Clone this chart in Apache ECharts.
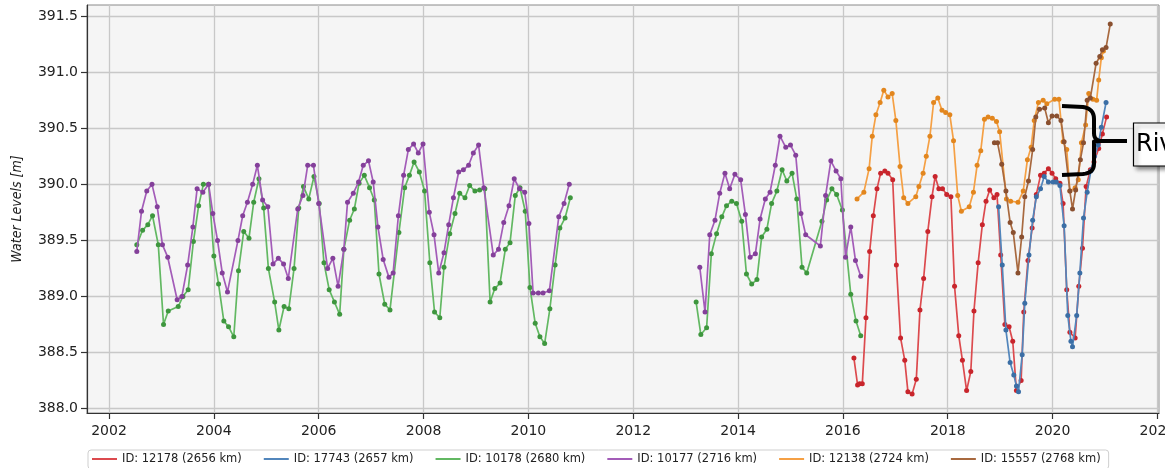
<!DOCTYPE html>
<html>
<head>
<meta charset="utf-8">
<script src="https://cdn.jsdelivr.net/npm/echarts@6/dist/echarts.min.js"></script>
<style>
  html, body { margin: 0; padding: 0; background: #ffffff; }
  #chart { width: 1165px; height: 468px; }
</style>
</head>
<body>
<div id="chart"></div>
<script>
// Axis ticks
const xTicks = [2002, 2004, 2006, 2008, 2010, 2012, 2014, 2016, 2018, 2020, 2022];
const yTicks = [388.0, 388.5, 389.0, 389.5, 390.0, 390.5, 391.0, 391.5];

// Virtual station names (legend)
const stationNames = [
  'ID: 12178 (2656 km)',
  'ID: 17743 (2657 km)',
  'ID: 10178 (2680 km)',
  'ID: 10177 (2716 km)',
  'ID: 12138 (2724 km)',
  'ID: 15557 (2768 km)'
];

// Water level time series: [decimal year, level in m]
const id12178 = [
  [2016.21, 388.45], [2016.28, 388.21], [2016.32, 388.22], [2016.37, 388.22], [2016.44, 388.81],
  [2016.51, 389.40], [2016.58, 389.72], [2016.65, 389.96], [2016.72, 390.10], [2016.80, 390.12],
  [2016.86, 390.10], [2016.95, 390.04], [2017.02, 389.28], [2017.10, 388.63], [2017.18, 388.43],
  [2017.24, 388.15], [2017.32, 388.13], [2017.40, 388.26], [2017.47, 388.88], [2017.54, 389.16],
  [2017.62, 389.58], [2017.70, 389.89], [2017.76, 390.07], [2017.83, 389.96], [2017.90, 389.96],
  [2017.98, 389.91], [2018.06, 389.89], [2018.13, 389.09], [2018.21, 388.65], [2018.28, 388.43],
  [2018.36, 388.16], [2018.44, 388.33], [2018.50, 388.87], [2018.58, 389.30], [2018.66, 389.64],
  [2018.73, 389.85], [2018.80, 389.95], [2018.88, 389.88], [2018.94, 389.91], [2019.01, 389.37],
  [2019.09, 388.75], [2019.17, 388.73], [2019.24, 388.60], [2019.31, 388.16], [2019.40, 388.25],
  [2019.45, 388.86], [2019.53, 389.32], [2019.61, 389.61], [2019.69, 389.91], [2019.77, 390.08],
  [2019.84, 390.10], [2019.92, 390.14], [2019.99, 390.10], [2020.06, 390.05], [2020.14, 390.01],
  [2020.20, 389.83], [2020.27, 389.06], [2020.33, 388.68], [2020.43, 388.63], [2020.50, 389.09],
  [2020.57, 389.43], [2020.64, 389.98], [2020.72, 390.13], [2020.79, 390.20], [2020.88, 390.32],
  [2020.95, 390.45], [2021.03, 390.60]
];

const id17743 = [
  [2018.97, 389.80], [2019.04, 389.28], [2019.11, 388.70], [2019.19, 388.41], [2019.26, 388.30],
  [2019.31, 388.20], [2019.35, 388.15], [2019.42, 388.48], [2019.47, 388.94], [2019.55, 389.37],
  [2019.62, 389.68], [2019.69, 389.89], [2019.77, 389.96], [2019.84, 390.07], [2019.92, 390.02],
  [2020.01, 390.02], [2020.07, 390.02], [2020.14, 389.99], [2020.22, 389.63], [2020.29, 388.83],
  [2020.35, 388.60], [2020.38, 388.55], [2020.46, 388.83], [2020.52, 389.21], [2020.59, 389.70],
  [2020.66, 389.93], [2020.73, 390.12], [2020.80, 390.25], [2020.87, 390.35], [2020.93, 390.51],
  [2021.02, 390.73]
];

const id10178 = [
  [2002.53, 389.46], [2002.64, 389.59], [2002.74, 389.64], [2002.83, 389.72], [2002.94, 389.46],
  [2003.04, 388.75], [2003.13, 388.87], [2003.32, 388.91], [2003.41, 389.00], [2003.51, 389.06],
  [2003.61, 389.49], [2003.71, 389.81], [2003.80, 390.00], [2003.90, 390.00], [2004.00, 389.36],
  [2004.09, 389.11], [2004.19, 388.78], [2004.28, 388.73], [2004.38, 388.64], [2004.47, 389.23],
  [2004.57, 389.58], [2004.67, 389.52], [2004.76, 389.84], [2004.86, 390.05], [2004.95, 389.79],
  [2005.04, 389.25], [2005.16, 388.95], [2005.24, 388.70], [2005.34, 388.91], [2005.43, 388.89],
  [2005.53, 389.25], [2005.62, 389.79], [2005.71, 389.98], [2005.81, 389.87], [2005.91, 390.07],
  [2006.01, 389.83], [2006.10, 389.30], [2006.20, 389.06], [2006.30, 388.95], [2006.40, 388.84],
  [2006.48, 389.42], [2006.59, 389.68], [2006.68, 389.78], [2006.77, 390.01], [2006.87, 390.08],
  [2006.97, 389.97], [2007.06, 389.86], [2007.15, 389.20], [2007.26, 388.93], [2007.36, 388.88],
  [2007.53, 389.57], [2007.64, 389.97], [2007.73, 390.08], [2007.82, 390.20], [2007.92, 390.11],
  [2008.02, 389.94], [2008.12, 389.30], [2008.21, 388.86], [2008.31, 388.81], [2008.39, 389.26],
  [2008.50, 389.56], [2008.60, 389.74], [2008.69, 389.92], [2008.79, 389.88], [2008.88, 389.99],
  [2008.98, 389.94], [2009.07, 389.95], [2009.17, 389.96], [2009.27, 388.95], [2009.36, 389.07],
  [2009.46, 389.12], [2009.56, 389.42], [2009.65, 389.48], [2009.75, 389.90], [2009.84, 389.97],
  [2009.94, 389.76], [2010.03, 389.08], [2010.13, 388.76], [2010.22, 388.64], [2010.31, 388.58],
  [2010.41, 388.89], [2010.51, 389.28], [2010.60, 389.61], [2010.70, 389.70], [2010.80, 389.88],
  null,
  [2013.20, 388.95], [2013.29, 388.66], [2013.40, 388.72], [2013.49, 389.38], [2013.59, 389.56],
  [2013.69, 389.71], [2013.78, 389.81], [2013.88, 389.85], [2013.97, 389.83], [2014.07, 389.67],
  [2014.16, 389.20], [2014.26, 389.11], [2014.36, 389.15], [2014.45, 389.53], [2014.55, 389.60],
  [2014.64, 389.83], [2014.74, 389.94], [2014.84, 390.13], [2014.93, 390.03], [2015.03, 390.10],
  [2015.12, 389.87], [2015.22, 389.26], [2015.31, 389.21], [2015.60, 389.67], [2015.69, 389.86],
  [2015.79, 389.96], [2015.88, 389.91], [2015.99, 389.77], [2016.15, 389.02], [2016.25, 388.78],
  [2016.34, 388.65]
];

const id10177 = [
  [2002.53, 389.40], [2002.62, 389.76], [2002.72, 389.94], [2002.82, 390.00], [2002.92, 389.80],
  [2003.02, 389.46], [2003.12, 389.35], [2003.30, 388.97], [2003.39, 389.00], [2003.50, 389.28],
  [2003.60, 389.62], [2003.68, 389.96], [2003.79, 389.93], [2003.90, 390.00], [2003.98, 389.74],
  [2004.07, 389.50], [2004.16, 389.21], [2004.26, 389.04], [2004.46, 389.50], [2004.55, 389.72],
  [2004.64, 389.84], [2004.74, 390.00], [2004.83, 390.17], [2004.93, 389.86], [2005.03, 389.80],
  [2005.13, 389.29], [2005.23, 389.34], [2005.33, 389.29], [2005.42, 389.16], [2005.60, 389.78],
  [2005.70, 389.90], [2005.79, 390.17], [2005.90, 390.17], [2006.00, 389.83], [2006.17, 389.25],
  [2006.27, 389.34], [2006.37, 389.09], [2006.48, 389.42], [2006.55, 389.84], [2006.66, 389.92],
  [2006.76, 390.02], [2006.85, 390.17], [2006.95, 390.21], [2007.04, 390.02], [2007.13, 389.62],
  [2007.23, 389.33], [2007.34, 389.17], [2007.42, 389.21], [2007.52, 389.72], [2007.62, 390.08],
  [2007.71, 390.31], [2007.81, 390.36], [2007.90, 390.28], [2007.99, 390.36], [2008.11, 389.75],
  [2008.20, 389.55], [2008.29, 389.21], [2008.39, 389.39], [2008.48, 389.64], [2008.57, 389.88],
  [2008.67, 390.11], [2008.76, 390.13], [2008.86, 390.17], [2008.95, 390.28], [2009.05, 390.35],
  [2009.15, 389.97], [2009.33, 389.37], [2009.43, 389.42], [2009.53, 389.66], [2009.63, 389.81],
  [2009.73, 390.05], [2009.83, 389.96], [2009.93, 389.93], [2010.01, 389.65], [2010.09, 389.03],
  [2010.19, 389.03], [2010.28, 389.03], [2010.40, 389.05], [2010.58, 389.71], [2010.68, 389.83],
  [2010.78, 390.00],
  null,
  [2013.27, 389.26], [2013.37, 388.86], [2013.46, 389.55], [2013.56, 389.68], [2013.65, 389.92],
  [2013.75, 390.10], [2013.84, 389.96], [2013.94, 390.09], [2014.05, 390.04], [2014.14, 389.73],
  [2014.23, 389.35], [2014.33, 389.38], [2014.42, 389.69], [2014.52, 389.87], [2014.61, 389.93],
  [2014.71, 390.17], [2014.80, 390.43], [2014.91, 390.33], [2015.00, 390.35], [2015.10, 390.26],
  [2015.20, 389.74], [2015.29, 389.55], [2015.57, 389.45], [2015.67, 389.90], [2015.77, 390.21],
  [2015.87, 390.12], [2015.96, 390.05], [2016.05, 389.35], [2016.15, 389.62], [2016.24, 389.32],
  [2016.34, 389.18]
];

const id12138 = [
  [2016.27, 389.87], [2016.40, 389.93], [2016.50, 390.14], [2016.56, 390.43], [2016.63, 390.62],
  [2016.71, 390.73], [2016.78, 390.84], [2016.86, 390.78], [2016.94, 390.81], [2017.01, 390.57],
  [2017.09, 390.16], [2017.16, 389.88], [2017.24, 389.83], [2017.39, 389.89], [2017.45, 389.98],
  [2017.53, 390.10], [2017.59, 390.25], [2017.66, 390.43], [2017.73, 390.73], [2017.81, 390.77],
  [2017.89, 390.66], [2017.96, 390.64], [2018.04, 390.62], [2018.11, 390.39], [2018.19, 389.90],
  [2018.26, 389.76], [2018.41, 389.80], [2018.49, 389.93], [2018.56, 390.17], [2018.63, 390.30],
  [2018.70, 390.58], [2018.77, 390.60], [2018.85, 390.59], [2018.93, 390.56], [2018.99, 390.47],
  [2019.12, 389.87], [2019.20, 389.85], [2019.34, 389.84], [2019.44, 389.94], [2019.52, 390.22],
  [2019.59, 390.33], [2019.65, 390.57], [2019.73, 390.73], [2019.82, 390.75], [2019.89, 390.72],
  [2020.04, 390.76], [2020.12, 390.76], [2020.20, 390.38], [2020.27, 390.31], [2020.33, 389.94],
  [2020.43, 389.97], [2020.49, 390.04], [2020.55, 390.37], [2020.63, 390.53], [2020.69, 390.81],
  [2020.77, 390.76], [2020.84, 390.75], [2020.88, 390.93], [2020.93, 391.13], [2020.97, 391.19]
];

const id15557 = [
  [2018.89, 390.37], [2018.95, 390.37], [2019.03, 390.18], [2019.11, 389.94], [2019.19, 389.66],
  [2019.25, 389.57], [2019.34, 389.21], [2019.41, 389.53], [2019.47, 389.89], [2019.54, 390.03],
  [2019.62, 390.31], [2019.68, 390.60], [2019.75, 390.67], [2019.85, 390.68], [2019.92, 390.55],
  [2019.99, 390.61], [2020.08, 390.61], [2020.16, 390.57], [2020.22, 390.38], [2020.33, 389.94],
  [2020.38, 389.78], [2020.44, 389.95], [2020.53, 390.22], [2020.59, 390.37], [2020.66, 390.75],
  [2020.72, 390.77], [2020.83, 391.08], [2020.90, 391.14], [2020.95, 391.20], [2021.02, 391.22],
  [2021.10, 391.43]
];

const stationData = [id12178, id17743, id10178, id10177, id12138, id15557];

// Line colour / marker colour per station
const lineColors = ['#dc4a4e', '#5286bc', '#62b862', '#a35cb8', '#f5a044', '#a8693f'];
const dotColors = ['#c8252c', '#3b6ea5', '#3e963e', '#84409a', '#e2861e', '#8a5030'];

const baseFont = "'DejaVu Sans', sans-serif";

// Curly brace (pixel space): sample quadratic segments into polyline points
function quad(p0, c, p1, n) {
  const pts = [];
  for (let k = 0; k <= n; k++) {
    const t = k / n, u = 1 - t;
    pts.push([u * u * p0[0] + 2 * u * t * c[0] + t * t * p1[0],
              u * u * p0[1] + 2 * u * t * c[1] + t * t * p1[1]]);
  }
  return pts;
}
const braceUpper = [[1062, 106]]
  .concat(quad([1083, 107], [1094, 108.5], [1094, 119], 8))
  .concat(quad([1094, 133], [1094, 140.5], [1101, 141], 6))
  .concat([[1127, 141]]);
const braceLower = [[1101, 141]]
  .concat(quad([1094, 141.5], [1094, 141.5], [1094, 149], 2))
  .concat(quad([1094, 164], [1094, 173], [1083, 174], 8))
  .concat([[1062, 175]]);

const chart = echarts.init(document.getElementById('chart'), null, { renderer: 'canvas' });

const series = stationNames.map((name, i) => ({
  name: name,
  type: 'line',
  data: stationData[i],
  connectNulls: false,
  symbol: 'circle',
  symbolSize: 5,
  showSymbol: true,
  showAllSymbol: true,
  lineStyle: { color: lineColors[i], width: 1.7 },
  itemStyle: { color: dotColors[i] },
  emphasis: { disabled: true },
  z: 2 + i
}));

chart.setOption({
  animation: false,
  backgroundColor: '#ffffff',
  grid: {
    left: 87, right: 6, top: 5, bottom: 55,
    outerBoundsMode: 'none',
    containLabel: false,
    show: true,
    backgroundColor: '#f5f5f5',
    borderColor: '#8a8a8a',
    borderWidth: 1
  },
  xAxis: {
    type: 'value',
    min: 2001.58,
    max: 2022.03,
    axisLine: { show: true, onZero: false, lineStyle: { color: '#333', width: 1.2 } },
    axisTick: { show: true, length: 6, customValues: xTicks, lineStyle: { color: '#333', width: 1.2 } },
    axisLabel: {
      customValues: xTicks,
      fontSize: 14, color: '#222', fontFamily: baseFont, margin: 11,
      formatter: v => String(Math.round(v))
    },
    splitLine: { show: true, lineStyle: { color: '#c8c8c8', width: 1.3 } }
  },
  yAxis: {
    type: 'value',
    min: 387.96,
    max: 391.6,
    name: 'Water Levels [m]',
    nameLocation: 'middle',
    nameGap: 63,
    nameRotate: 90,
    nameTextStyle: {
      fontSize: 14, fontStyle: 'italic', color: '#222',
      fontFamily: "'Liberation Sans Narrow', 'DejaVu Sans Condensed', 'DejaVu Sans', sans-serif"
    },
    axisLine: { show: true, lineStyle: { color: '#333', width: 1.2 } },
    axisTick: { show: true, length: 6, customValues: yTicks, lineStyle: { color: '#333', width: 1.2 } },
    axisLabel: {
      customValues: yTicks,
      fontSize: 14, color: '#222', fontFamily: baseFont, margin: 9,
      formatter: v => v.toFixed(1)
    },
    splitLine: { show: true, lineStyle: { color: '#c8c8c8', width: 1.3 } }
  },
  legend: {
    left: 88,
    top: 450,
    orient: 'horizontal',
    padding: [3, 8, 4, 4],
    borderColor: '#cfcfcf',
    borderWidth: 1,
    borderRadius: 3,
    backgroundColor: '#ffffff',
    itemWidth: 25,
    itemHeight: 2,
    itemGap: 22,
    icon: 'rect',
    selectedMode: false,
    textStyle: { fontSize: 11.5, color: '#222', fontFamily: baseFont },
    data: stationNames.map((n, i) => ({ name: n, itemStyle: { color: lineColors[i] } }))
  },
  graphic: [
    {
      type: 'polyline',
      z: 100,
      shape: { points: braceUpper },
      style: { fill: null, stroke: '#000000', lineWidth: 4, lineJoin: 'round' }
    },
    {
      type: 'polyline',
      z: 100,
      shape: { points: braceLower },
      style: { fill: null, stroke: '#000000', lineWidth: 4, lineJoin: 'round' }
    },
    {
      type: 'rect',
      z: 100,
      shape: { x: 1133.5, y: 123, width: 60, height: 43 },
      style: {
        fill: '#ffffff', stroke: '#000000', lineWidth: 1.2,
        shadowBlur: 4, shadowOffsetX: 3, shadowOffsetY: 3, shadowColor: 'rgba(0,0,0,0.45)'
      }
    },
    {
      type: 'text',
      z: 101,
      x: 1136,
      y: 145,
      style: {
        text: 'River',
        fontSize: 24,
        fontFamily: baseFont,
        fill: '#000000',
        verticalAlign: 'middle',
        align: 'left'
      }
    }
  ],
  series: series
});
</script>
</body>
</html>
